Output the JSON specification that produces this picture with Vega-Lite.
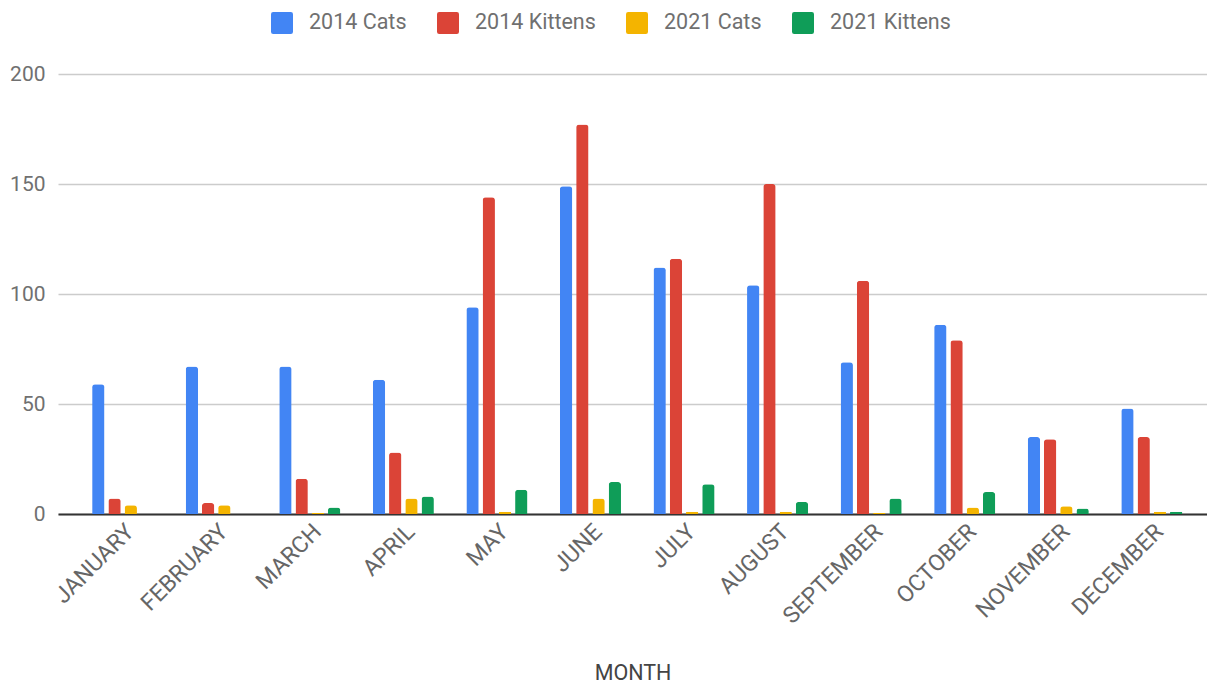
{
  "$schema": "https://vega.github.io/schema/vega-lite/v6.json",
  "autosize": {"type": "none"},
  "width": 1149,
  "height": 440,
  "padding": {"left": 58, "top": 74, "right": 0, "bottom": 169},
  "background": "white",
  "config": {
    "font": "Roboto",
    "view": {"stroke": null},
    "axis": {"labelFont": "Roboto", "titleFont": "Roboto"},
    "legend": {"labelFont": "Roboto"}
  },
  "data": {
    "values": [
      {"month": "JANUARY", "series": "2014 Cats", "value": 59},
      {"month": "JANUARY", "series": "2014 Kittens", "value": 7},
      {"month": "JANUARY", "series": "2021 Cats", "value": 4},
      {"month": "JANUARY", "series": "2021 Kittens", "value": 0},
      {"month": "FEBRUARY", "series": "2014 Cats", "value": 67},
      {"month": "FEBRUARY", "series": "2014 Kittens", "value": 5},
      {"month": "FEBRUARY", "series": "2021 Cats", "value": 4},
      {"month": "FEBRUARY", "series": "2021 Kittens", "value": 0},
      {"month": "MARCH", "series": "2014 Cats", "value": 67},
      {"month": "MARCH", "series": "2014 Kittens", "value": 16},
      {"month": "MARCH", "series": "2021 Cats", "value": 0.5},
      {"month": "MARCH", "series": "2021 Kittens", "value": 3},
      {"month": "APRIL", "series": "2014 Cats", "value": 61},
      {"month": "APRIL", "series": "2014 Kittens", "value": 28},
      {"month": "APRIL", "series": "2021 Cats", "value": 7},
      {"month": "APRIL", "series": "2021 Kittens", "value": 8},
      {"month": "MAY", "series": "2014 Cats", "value": 94},
      {"month": "MAY", "series": "2014 Kittens", "value": 144},
      {"month": "MAY", "series": "2021 Cats", "value": 1},
      {"month": "MAY", "series": "2021 Kittens", "value": 11},
      {"month": "JUNE", "series": "2014 Cats", "value": 149},
      {"month": "JUNE", "series": "2014 Kittens", "value": 177},
      {"month": "JUNE", "series": "2021 Cats", "value": 7},
      {"month": "JUNE", "series": "2021 Kittens", "value": 14.5},
      {"month": "JULY", "series": "2014 Cats", "value": 112},
      {"month": "JULY", "series": "2014 Kittens", "value": 116},
      {"month": "JULY", "series": "2021 Cats", "value": 1},
      {"month": "JULY", "series": "2021 Kittens", "value": 13.5},
      {"month": "AUGUST", "series": "2014 Cats", "value": 104},
      {"month": "AUGUST", "series": "2014 Kittens", "value": 150},
      {"month": "AUGUST", "series": "2021 Cats", "value": 1},
      {"month": "AUGUST", "series": "2021 Kittens", "value": 5.5},
      {"month": "SEPTEMBER", "series": "2014 Cats", "value": 69},
      {"month": "SEPTEMBER", "series": "2014 Kittens", "value": 106},
      {"month": "SEPTEMBER", "series": "2021 Cats", "value": 0.5},
      {"month": "SEPTEMBER", "series": "2021 Kittens", "value": 7},
      {"month": "OCTOBER", "series": "2014 Cats", "value": 86},
      {"month": "OCTOBER", "series": "2014 Kittens", "value": 79},
      {"month": "OCTOBER", "series": "2021 Cats", "value": 3},
      {"month": "OCTOBER", "series": "2021 Kittens", "value": 10},
      {"month": "NOVEMBER", "series": "2014 Cats", "value": 35},
      {"month": "NOVEMBER", "series": "2014 Kittens", "value": 34},
      {"month": "NOVEMBER", "series": "2021 Cats", "value": 3.5},
      {"month": "NOVEMBER", "series": "2021 Kittens", "value": 2.5},
      {"month": "DECEMBER", "series": "2014 Cats", "value": 48},
      {"month": "DECEMBER", "series": "2014 Kittens", "value": 35},
      {"month": "DECEMBER", "series": "2021 Cats", "value": 1},
      {"month": "DECEMBER", "series": "2021 Kittens", "value": 1}
    ]
  },
  "mark": {"type": "bar", "cornerRadiusEnd": 3},
  "encoding": {
    "x": {
      "field": "month",
      "type": "nominal",
      "sort": ["JANUARY", "FEBRUARY", "MARCH", "APRIL", "MAY", "JUNE", "JULY", "AUGUST", "SEPTEMBER", "OCTOBER", "NOVEMBER", "DECEMBER"],
      "scale": {"paddingInner": 0, "paddingOuter": 0.1405, "align": 0.68},
      "axis": {
        "title": "MONTH",
        "titleFontSize": 21.5,
        "titleFontWeight": "normal",
        "titleColor": "#444444",
        "titleY": 159,
        "titleBaseline": "middle",
        "labelAngle": -45,
        "labelFontSize": 23,
        "labelColor": "#666666",
        "labelPadding": 6,
        "ticks": false,
        "domain": true,
        "domainColor": "#333333",
        "domainWidth": 2,
        "grid": false
      }
    },
    "xOffset": {
      "field": "series",
      "type": "nominal",
      "sort": ["2014 Cats", "2014 Kittens", "2021 Cats", "2021 Kittens"],
      "scale": {"paddingInner": 0.24, "paddingOuter": 1.346}
    },
    "y": {
      "field": "value",
      "type": "quantitative",
      "scale": {"domain": [0, 200], "nice": false},
      "axis": {
        "title": null,
        "values": [0, 50, 100, 150, 200],
        "labelFontSize": 21,
        "labelColor": "#707070",
        "labelPadding": 13,
        "ticks": false,
        "domain": false,
        "grid": true,
        "gridColor": "#cccccc",
        "gridWidth": 1.5
      }
    },
    "color": {
      "field": "series",
      "type": "nominal",
      "sort": ["2014 Cats", "2014 Kittens", "2021 Cats", "2021 Kittens"],
      "scale": {
        "domain": ["2014 Cats", "2014 Kittens", "2021 Cats", "2021 Kittens"],
        "range": ["#4285F4", "#DB4437", "#F4B400", "#0F9D58"]
      },
      "legend": {
        "title": null,
        "orient": "none",
        "direction": "horizontal",
        "legendX": 213,
        "legendY": -62,
        "symbolType": "M -1 -0.8 Q -1 -1 -0.8 -1 L 0.8 -1 Q 1 -1 1 -0.8 L 1 0.8 Q 1 1 0.8 1 L -0.8 1 Q -1 1 -1 0.8 Z",
        "symbolSize": 484,
        "symbolStrokeWidth": 0,
        "labelFontSize": 21.5,
        "labelColor": "#707070",
        "labelOffset": 16,
        "columnPadding": 30,
        "padding": 0
      }
    }
  }
}
